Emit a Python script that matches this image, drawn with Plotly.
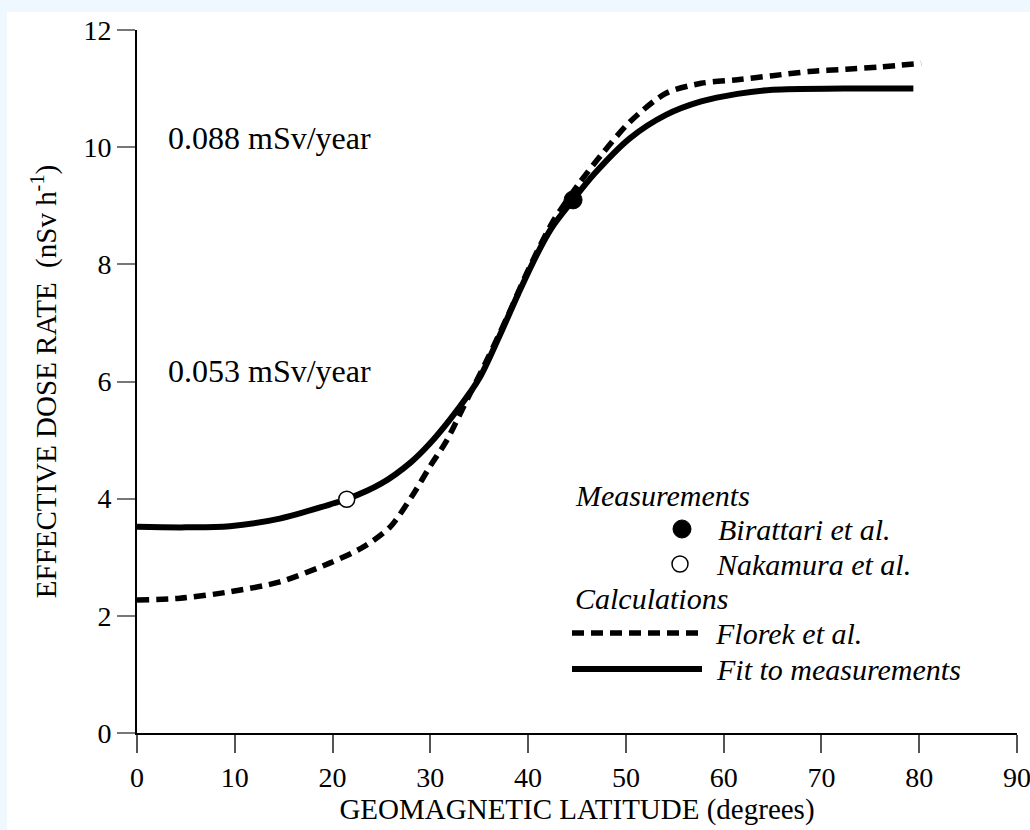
import plotly.graph_objects as go

# Effective dose rate vs geomagnetic latitude
fit_lat = [0, 5, 9.5, 14.6, 19.7, 21.45, 25, 28, 30, 32, 34, 35.1, 37, 39, 41, 42.4,
           44.6, 46.8, 50.4, 54.1, 57.7, 61.4, 65, 72.3, 79.4]
fit_dose = [3.52, 3.51, 3.53, 3.66, 3.9, 3.99, 4.26, 4.62, 4.95, 5.35, 5.8, 6.08,
            6.75, 7.5, 8.2, 8.62, 9.1, 9.55, 10.15, 10.55, 10.78, 10.91, 10.98, 11.0, 11.0]

florek_lat = [0, 4.4, 9.5, 14.6, 19.7, 23.2, 25.9, 28.3, 30, 31.7, 33.4, 35.8, 38,
              40, 42.5, 45.3, 47.5, 50.4, 54.1, 57.7, 61.4, 65, 68.7, 72.5, 76, 80.2]
florek_dose = [2.27, 2.3, 2.41, 2.58, 2.9, 3.18, 3.52, 4.09, 4.56, 5.0, 5.57, 6.37,
               7.15, 7.9, 8.72, 9.4, 9.87, 10.43, 10.92, 11.09, 11.15, 11.22, 11.29,
               11.33, 11.37, 11.43]

birattari_lat = [44.6]
birattari_dose = [9.1]
nakamura_lat = [21.45]
nakamura_dose = [3.99]

x_ticks = list(range(0, 91, 10))
y_ticks = list(range(0, 13, 2))

SERIF = "Liberation Serif, Times New Roman, serif"
dash = "12px,7px"


# pixel -> paper coordinates (plot area spans x 137..1017, y 30..733)
def px(x):
    return (x - 137) / 880


def py(y):
    return (733 - y) / 703


fig = go.Figure()

fig.add_trace(go.Scatter(
    x=florek_lat, y=florek_dose, mode="lines",
    line=dict(color="black", width=5.5, dash=dash, shape="spline", smoothing=0.8),
    name="Florek et al.", cliponaxis=False
))
fig.add_trace(go.Scatter(
    x=fit_lat, y=fit_dose, mode="lines",
    line=dict(color="black", width=6, shape="spline", smoothing=1.0),
    name="Fit to measurements", cliponaxis=False
))
fig.add_trace(go.Scatter(
    x=birattari_lat, y=birattari_dose, mode="markers",
    marker=dict(color="black", size=18, line=dict(color="black", width=1)),
    name="Birattari et al."
))
fig.add_trace(go.Scatter(
    x=nakamura_lat, y=nakamura_dose, mode="markers",
    marker=dict(color="white", size=16, line=dict(color="black", width=1.5)),
    name="Nakamura et al."
))

shapes = [
    # light blue frame at top/left
    dict(type="rect", xref="paper", yref="paper", x0=px(7), x1=px(1030),
         y0=py(830), y1=py(12), fillcolor="white", line=dict(width=0), layer="below"),
    # hand-drawn legend samples
    dict(type="circle", xref="paper", yref="paper", xsizemode="pixel", ysizemode="pixel",
         xanchor=px(682), yanchor=py(529), x0=-9, x1=9, y0=-9, y1=9,
         fillcolor="black", line=dict(color="black", width=1)),
    dict(type="circle", xref="paper", yref="paper", xsizemode="pixel", ysizemode="pixel",
         xanchor=px(680), yanchor=py(564), x0=-8, x1=8, y0=-8, y1=8,
         fillcolor="white", line=dict(color="black", width=1.5)),
    dict(type="line", xref="paper", yref="paper", x0=px(572), x1=px(703),
         y0=py(633), y1=py(633), line=dict(color="black", width=5.5, dash=dash)),
    dict(type="line", xref="paper", yref="paper", x0=px(572), x1=px(702),
         y0=py(669), y1=py(669), line=dict(color="black", width=6)),
]

legend_text = [
    ("<i>Measurements</i>", 573, 495),
    ("<i>Birattari et al.</i>", 716, 529),
    ("<i>Nakamura et al.</i>", 714, 564),
    ("<i>Calculations</i>", 573, 598),
    ("<i>Florek et al.</i>", 713, 633),
    ("<i>Fit to measurements</i>", 714, 669),
]
annotations = [
    dict(text=t, xref="paper", yref="paper", x=px(xp), y=py(yp), xanchor="left",
         yanchor="middle", showarrow=False, font=dict(family=SERIF, size=30, color="black"))
    for t, xp, yp in legend_text
]
annotations += [
    dict(text="0.088 mSv/year", x=3.0, y=10.16, xref="x", yref="y", xanchor="left",
         yanchor="middle", showarrow=False, font=dict(family=SERIF, size=32, color="black")),
    dict(text="0.053 mSv/year", x=3.0, y=6.18, xref="x", yref="y", xanchor="left",
         yanchor="middle", showarrow=False, font=dict(family=SERIF, size=32, color="black")),
]

fig.update_layout(
    width=1030, height=830,
    margin=dict(l=137, r=13, t=30, b=97),
    paper_bgcolor="#F0F8FF",
    plot_bgcolor="white",
    showlegend=False,
    font=dict(family=SERIF, color="black"),
    shapes=shapes,
    annotations=annotations,
    xaxis=dict(
        range=[0, 90], tickvals=x_ticks, showgrid=False, zeroline=False,
        showline=True, linecolor="black", linewidth=2, automargin=False,
        ticks="outside", ticklen=18, tickwidth=1.5, tickcolor="#555",
        tickfont=dict(family=SERIF, size=28), ticklabeloverflow="allow",
        title=dict(text="GEOMAGNETIC LATITUDE (degrees)", font=dict(family=SERIF, size=29),
                   standoff=2),
    ),
    yaxis=dict(
        range=[0, 12], tickvals=y_ticks, showgrid=False, zeroline=False,
        showline=True, linecolor="black", linewidth=2, automargin=False,
        ticks="outside", ticklen=18, tickwidth=1.5, tickcolor="#777",
        tickfont=dict(family=SERIF, size=28),
        title=dict(text="EFFECTIVE DOSE RATE  (nSv h<sup>-1</sup>)",
                   font=dict(family=SERIF, size=29), standoff=18),
    ),
)

# drop the default page margin so the figure sits at the window's top-left corner
fig.write_html("out.html", config={"displayModeBar": False},
               post_script="document.body.style.margin = '0px';")
